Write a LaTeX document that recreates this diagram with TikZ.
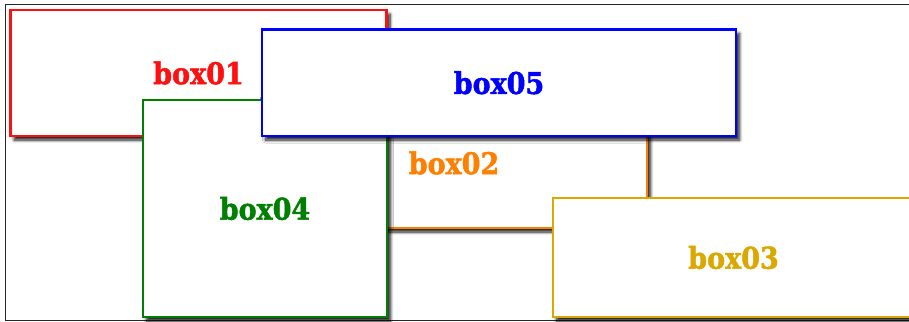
\documentclass[tikz,border=0pt]{standalone}
\usepackage{fontspec}
\newfontfamily\slabfont{DejaVu Serif}[FakeStretch=0.9, BoldFeatures={FakeBold=1.5}]
\usepackage{tikz}
\usetikzlibrary{shadows, shadows.blur}

\definecolor{boxred}{HTML}{FF1010}
\definecolor{boxorange}{HTML}{FF8000}
\definecolor{boxgold}{HTML}{DAA800}
\definecolor{boxgreen}{HTML}{008000}
\definecolor{boxblue}{HTML}{0000FF}

\begin{document}
\begin{tikzpicture}[
  x=1pt, y=-1pt,
  box/.style={draw=#1, text=#1, fill=white, line width=2.2pt, inner sep=0pt,
    font=\fontsize{30}{34}\selectfont\slabfont\bfseries,
    blur shadow={shadow xshift=3.5pt, shadow yshift=-4pt, shadow blur steps=8,
      shadow blur radius=3pt, shadow opacity=90}}
]
  \useasboundingbox (0,0) rectangle (909,321);
  \draw[black!85, line width=1pt] (5,4.5) rectangle (920,320);

  \node[box=boxred,    minimum width=376pt, minimum height=126pt] (box01) at (198.5,73)  {box01};
  \node[box=boxorange, minimum width=386pt, minimum height=130pt] (box02) at (454,163)   {box02};
  \node[box=boxgold,   minimum width=361pt, minimum height=119pt] (box03) at (733.5,257.5) {box03};
  \node[box=boxgreen,  minimum width=244pt, minimum height=217pt, line width=1.8pt] (box04) at (265,208.5) {box04};
  \node[box=boxblue,   minimum width=474pt, minimum height=106.5pt] (box05) at (499,82.75) {box05};
\end{tikzpicture}
\end{document}
